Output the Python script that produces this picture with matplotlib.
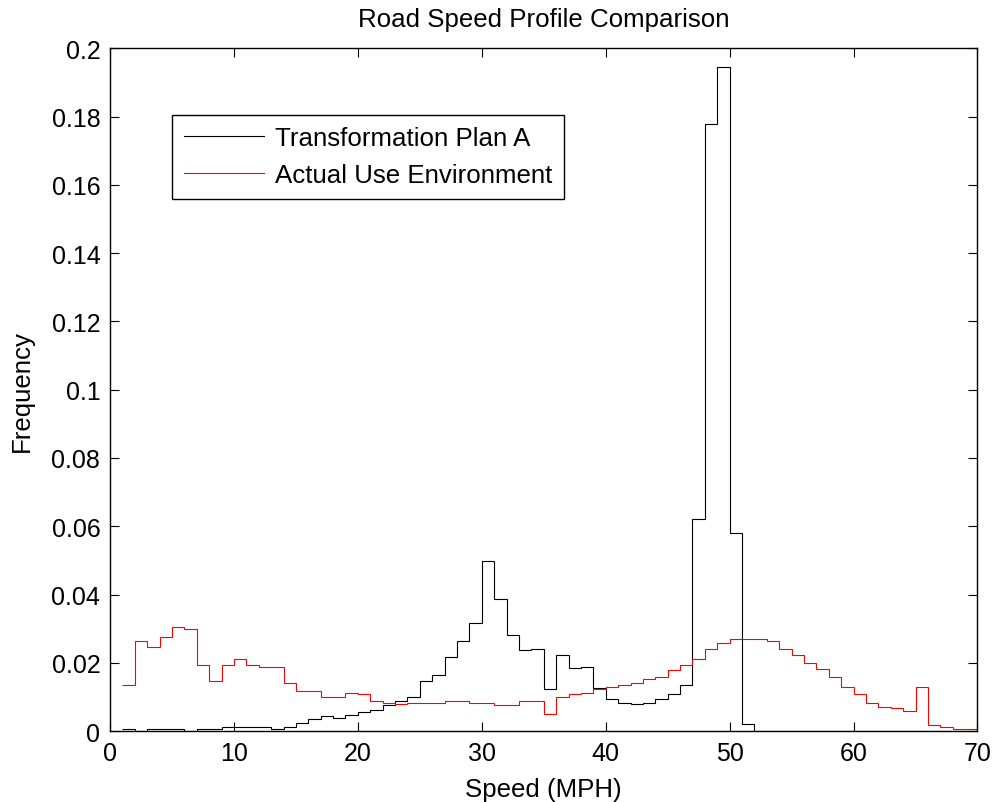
import numpy as np
import matplotlib
matplotlib.use('Agg')
import matplotlib.pyplot as plt

plt.rcParams['font.family'] = ['Liberation Sans', 'DejaVu Sans']

# speed bins start at 1 MPH, width 1 MPH
bin_edges = np.arange(1, 71)

plan_a = [0.0006, 0.0001, 0.0006, 0.0006, 0.0006, 0.0001, 0.0006, 0.0006, 0.0013, 0.0013,
          0.0013, 0.0013, 0.0006, 0.0013, 0.0023, 0.0035, 0.0043, 0.0037, 0.0048, 0.0055,
          0.0061, 0.0077, 0.0088, 0.0101, 0.0148, 0.0165, 0.0218, 0.0265, 0.0317, 0.0499,
          0.0387, 0.0282, 0.0236, 0.0241, 0.0124, 0.0224, 0.0184, 0.0189, 0.0125, 0.0095,
          0.0083, 0.0078, 0.0083, 0.0095, 0.0107, 0.0136, 0.0620, 0.1780, 0.1945, 0.0580,
          0.0020, 0, 0, 0, 0, 0, 0, 0, 0, 0,
          0, 0, 0, 0, 0, 0, 0, 0, 0]

actual_use = [0.0136, 0.0264, 0.0247, 0.0276, 0.0305, 0.0300, 0.0193, 0.0148, 0.0193, 0.0212,
              0.0193, 0.0189, 0.0189, 0.0142, 0.0118, 0.0118, 0.0100, 0.0100, 0.0111, 0.0107,
              0.0089, 0.0083, 0.0078, 0.0083, 0.0083, 0.0083, 0.0089, 0.0089, 0.0083, 0.0083,
              0.0077, 0.0077, 0.0089, 0.0089, 0.0049, 0.0101, 0.0107, 0.0112, 0.0124, 0.0130,
              0.0136, 0.0142, 0.0153, 0.0159, 0.0178, 0.0194, 0.0211, 0.0240, 0.0259, 0.0271,
              0.0271, 0.0271, 0.0265, 0.0241, 0.0224, 0.0200, 0.0183, 0.0159, 0.0130, 0.0107,
              0.0083, 0.0071, 0.0066, 0.0060, 0.0130, 0.0019, 0.0013, 0.0007, 0.0007]

x_ticks = np.arange(0, 71, 10)
y_ticks = np.arange(0, 0.201, 0.02)
y_tick_labels = ['0', '0.02', '0.04', '0.06', '0.08', '0.1', '0.12', '0.14', '0.16', '0.18', '0.2']

fig = plt.figure(figsize=(9.95, 8.03), dpi=100)
ax = fig.add_axes([0.1106, 0.0884, 0.8718, 0.85])

ax.stairs(plan_a, bin_edges, baseline=None, color='k', linewidth=0.8,
          label='Transformation Plan A')
ax.stairs(actual_use, bin_edges, baseline=None, color='#ff0000', linewidth=0.8,
          label='Actual Use Environment')

ax.set_xlim(0, 70)
ax.set_ylim(0, 0.2)
ax.set_xticks(x_ticks)
ax.set_yticks(y_ticks)
ax.set_yticklabels(y_tick_labels)
ax.tick_params(direction='in', top=True, right=True, length=6.3, width=0.8,
               labelsize=18, pad=7)
for s in ax.spines.values():
    s.set_linewidth(1.0)

ax.set_title('Road Speed Profile Comparison', fontsize=18.6, pad=16)
ax.set_xlabel('Speed (MPH)', fontsize=18.6, labelpad=9)
ax.set_ylabel('Frequency', fontsize=18.6, labelpad=13)

leg = ax.legend(loc='upper left', bbox_to_anchor=(0.0715, 0.903), borderaxespad=0,
                fontsize=18.6, fancybox=False, framealpha=1, edgecolor='k',
                handlelength=3.1, handletextpad=0.45, labelspacing=0.5, borderpad=0.45)
leg.get_frame().set_linewidth(1.0)

fig.savefig('out.png', dpi=100)
